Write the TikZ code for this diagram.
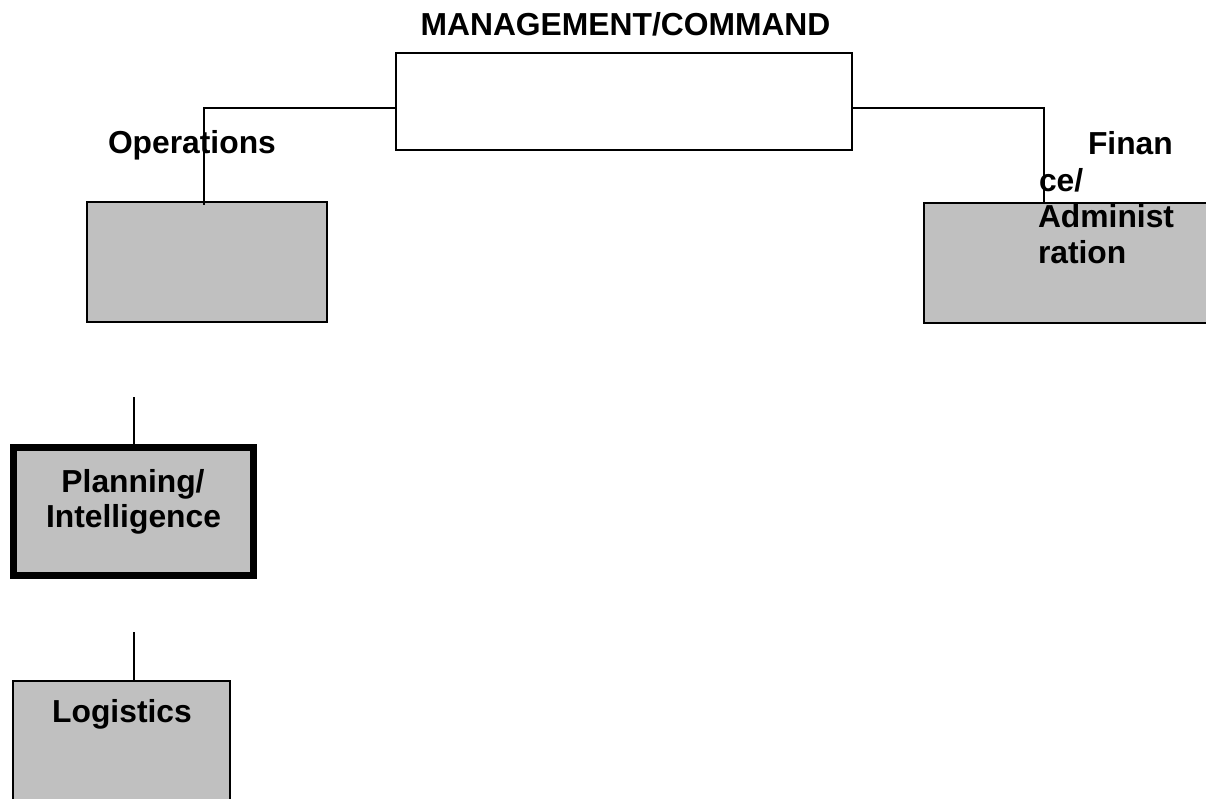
\documentclass[tikz,border=0pt]{standalone}
\usepackage{fontspec}
\setmainfont{Liberation Sans}
\definecolor{boxgray}{HTML}{C0C0C0}
\begin{document}
\begin{tikzpicture}[x=1pt,y=-1pt,
  box/.style={draw=black, line width=1.6pt, inner sep=0pt, outer sep=0pt},
  graybox/.style={box, fill=boxgray},
  lbl/.style={inner sep=0pt, outer sep=0pt, font=\fontsize{31.8}{36.5}\selectfont\bfseries},
  conn/.style={draw=black, line width=1.6pt}]
\useasboundingbox (0,0) rectangle (1206,799);
\fill[white] (0,0) rectangle (1206,799);
% boxes
\node[box, fill=white, minimum width=456pt, minimum height=97pt] (mgmt) at (624,101.5) {};
\node[graybox, minimum width=240pt, minimum height=120pt] (ops) at (207,262) {};
\node[graybox, minimum width=291pt, minimum height=120pt] (fin) at (1069.5,263) {};
\node[graybox, line width=7pt, minimum width=240pt, minimum height=128pt] (plan) at (133,511.5) {};
\node[graybox, minimum width=217pt, minimum height=139pt] (log) at (121.5,750.5) {};
% connector end points
\coordinate (opsend) at (204,205);
\coordinate (finend) at (1044,203);
\coordinate (planstart) at (134,397);
\coordinate (logstart) at (134,632);
% connectors
\draw[conn] ([yshift=-6.5pt]mgmt.west) -| (opsend);
\draw[conn] ([yshift=-6.5pt]mgmt.east) -| (finend);
\draw[conn] (planstart) -- (planstart |- plan.north);
\draw[conn] (logstart) -- (logstart |- log.north);
% labels
\node[lbl, anchor=base] (mgmtlbl) at (625.5,36) {MANAGEMENT/COMMAND};
\node[lbl, anchor=base west] (opslbl) at (108,154) {Operations};
\node[lbl, anchor=base west] (finlbl1) at (1088,155) {Finan};
\node[lbl, anchor=base west] (finlbl2) at (1039,192) {ce/};
\node[lbl, anchor=base west] (finlbl3) at (1038,228) {Administ};
\node[lbl, anchor=base west] (finlbl4) at (1038,264) {ration};
\node[lbl, anchor=base] (planlbl1) at (133,492) {Planning/};
\node[lbl, anchor=base] (planlbl2) at (133.5,527) {Intelligence};
\node[lbl, anchor=base] (loglbl) at (122,722) {Logistics};
\end{tikzpicture}
\end{document}
